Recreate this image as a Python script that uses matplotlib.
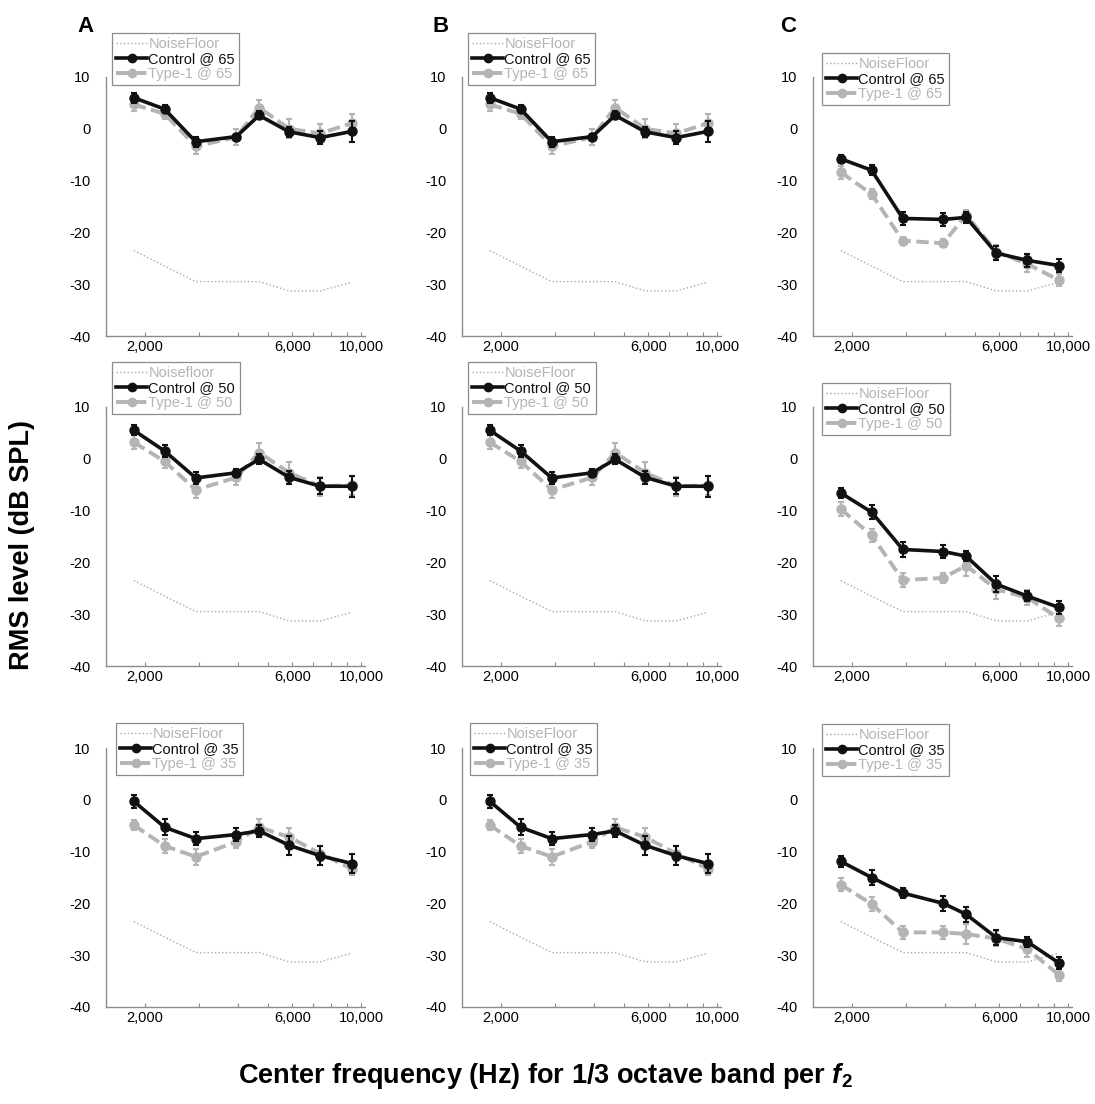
"""
RMS level of 1/3-octave bands vs. center frequency (f2), Control vs Type-1,
at three stimulus levels (65, 50, 35) for panels A, B and C.
"""

import matplotlib
matplotlib.use("Agg")
import matplotlib.pyplot as plt
from matplotlib.lines import Line2D
from matplotlib.ticker import FixedLocator, FixedFormatter, NullLocator

plt.rcParams["font.family"] = ["Liberation Sans", "DejaVu Sans"]
plt.rcParams["axes.unicode_minus"] = False
plt.rcParams["mathtext.fontset"] = "custom"
plt.rcParams["mathtext.rm"] = "Liberation Sans"
plt.rcParams["mathtext.bf"] = "Liberation Sans:bold"
plt.rcParams["mathtext.it"] = "Liberation Sans:italic"
plt.rcParams["mathtext.bfit"] = "Liberation Sans:bold:italic"

# ---- data -------------------------------------------------------------
FREQ = [1845, 2320, 2925, 3955, 4685, 5865, 7385, 9345]
NOISE_FLOOR = [-23.5, -26.5, -29.5, -29.5, -29.5, -31.3, -31.3, -29.6]
LEVELS = [65, 50, 35]

XTICKS = [2000, 3000, 4000, 5000, 6000, 7000, 8000, 9000, 10000]
XTICK_LABELS = ["2,000", "", "", "", "6,000", "", "", "", "10,000"]
YTICKS = [-40, -30, -20, -10, 0, 10]

# panel A
A_CTRL_65 = [6.0, 3.8, -2.5, -1.5, 2.6, -0.6, -1.7, -0.5]
A_CTRL_65_ERR = [1.0, 0.7, 1.0, 0.5, 0.8, 1.0, 1.2, 2.0]
A_TYPE_65 = [4.7, 2.9, -3.4, -1.6, 4.1, 0.0, -0.9, 1.1]
A_TYPE_65_ERR = [1.3, 1.0, 1.5, 1.5, 1.5, 1.8, 1.8, 1.7]
A_CTRL_50 = [5.5, 1.5, -3.7, -2.7, -0.1, -3.6, -5.3, -5.3]
A_CTRL_50_ERR = [1.0, 1.2, 1.2, 0.8, 1.0, 1.3, 1.5, 2.0]
A_TYPE_50 = [3.2, -0.5, -6.0, -3.6, 1.2, -2.7, -5.3, -5.1]
A_TYPE_50_ERR = [1.3, 1.3, 1.5, 1.5, 1.8, 2.0, 1.8, 1.8]
A_CTRL_35 = [-0.3, -5.3, -7.5, -6.7, -6.0, -8.8, -10.8, -12.3]
A_CTRL_35_ERR = [1.3, 1.5, 1.2, 1.2, 1.2, 1.8, 1.8, 1.8]
A_TYPE_35 = [-4.9, -8.9, -11.0, -8.1, -5.3, -7.2, -10.4, -13.3]
A_TYPE_35_ERR = [1.0, 1.3, 1.5, 1.3, 1.5, 1.8, 1.5, 1.2]

# panel B (reads identical to A in the source figure)
B_CTRL_65 = [6.0, 3.8, -2.5, -1.5, 2.6, -0.6, -1.7, -0.5]
B_CTRL_65_ERR = [1.0, 0.7, 1.0, 0.5, 0.8, 1.0, 1.2, 2.0]
B_TYPE_65 = [4.7, 2.9, -3.4, -1.6, 4.1, 0.0, -0.9, 1.1]
B_TYPE_65_ERR = [1.3, 1.0, 1.5, 1.5, 1.5, 1.8, 1.8, 1.7]
B_CTRL_50 = [5.5, 1.5, -3.7, -2.7, -0.1, -3.6, -5.3, -5.3]
B_CTRL_50_ERR = [1.0, 1.2, 1.2, 0.8, 1.0, 1.3, 1.5, 2.0]
B_TYPE_50 = [3.2, -0.5, -6.0, -3.6, 1.2, -2.7, -5.3, -5.1]
B_TYPE_50_ERR = [1.3, 1.3, 1.5, 1.5, 1.8, 2.0, 1.8, 1.8]
B_CTRL_35 = [-0.3, -5.3, -7.5, -6.7, -6.0, -8.8, -10.8, -12.3]
B_CTRL_35_ERR = [1.3, 1.5, 1.2, 1.2, 1.2, 1.8, 1.8, 1.8]
B_TYPE_35 = [-4.9, -8.9, -11.0, -8.1, -5.3, -7.2, -10.4, -13.3]
B_TYPE_35_ERR = [1.0, 1.3, 1.5, 1.3, 1.5, 1.8, 1.5, 1.2]

# panel C
C_CTRL_65 = [-5.8, -8.0, -17.3, -17.5, -17.1, -24.0, -25.4, -26.4]
C_CTRL_65_ERR = [0.8, 1.0, 1.3, 1.2, 1.0, 1.3, 1.3, 1.3]
C_TYPE_65 = [-8.4, -12.6, -21.6, -22.1, -16.6, -23.7, -26.1, -29.2]
C_TYPE_65_ERR = [1.3, 1.0, 0.8, 0.8, 1.0, 1.2, 1.5, 1.2]
C_CTRL_50 = [-6.6, -10.3, -17.5, -17.9, -18.8, -24.2, -26.5, -28.7]
C_CTRL_50_ERR = [1.0, 1.3, 1.5, 1.2, 1.0, 1.5, 1.0, 1.2]
C_TYPE_50 = [-9.7, -14.8, -23.4, -23.0, -20.6, -25.2, -26.8, -30.8]
C_TYPE_50_ERR = [1.3, 1.3, 1.3, 1.0, 2.0, 1.8, 1.5, 1.5]
C_CTRL_35 = [-11.9, -15.0, -18.0, -20.0, -22.1, -26.6, -27.4, -31.5]
C_CTRL_35_ERR = [1.0, 1.5, 1.0, 1.5, 1.5, 1.5, 1.0, 1.2]
C_TYPE_35 = [-16.4, -20.1, -25.6, -25.6, -25.9, -26.8, -28.8, -33.8]
C_TYPE_35_ERR = [1.3, 1.3, 1.2, 1.2, 2.0, 1.5, 1.5, 1.2]

NOISE_LABELS = [["NoiseFloor", "Noisefloor", "NoiseFloor"],
                ["NoiseFloor", "NoiseFloor", "NoiseFloor"],
                ["NoiseFloor", "NoiseFloor", "NoiseFloor"]]   # [panel][row]

# ---- layout (pixels) -------------------------------------------------
W, H = 1095, 1104
COL_LEFT = [106, 462, 813]
ROW_TOP = [77, 407, 748]
AX_W, AX_H = 259, 259
LEGEND_XY = [[(112, 33), (112, 362), (116, 723)],
             [(468, 33), (468, 362), (470, 723)],
             [(822, 53), (822, 383), (822, 724)]]

BLACK = "#111111"
GRAY = "#b4b4b4"
NF_GRAY = "#a8a8a8"
SPINE = "#8c8c8c"


def _panel(ax, ctrl, ctrl_err, typ, typ_err, level, nf_label, legend_xy, fig):
    ax.plot(FREQ, NOISE_FLOOR, color=NF_GRAY, ls=":", lw=1.0, zorder=1)
    ax.errorbar(FREQ, typ, yerr=typ_err, color=GRAY, lw=2.8, dashes=(3.2, 1.4),
                marker="o", ms=6.5, mec=GRAY, mfc=GRAY, elinewidth=1.5,
                capsize=2.5, capthick=1.5, zorder=2)
    ax.errorbar(FREQ, ctrl, yerr=ctrl_err, color=BLACK, lw=2.6,
                marker="o", ms=6.5, elinewidth=1.5, capsize=2.5, capthick=1.5,
                zorder=3)

    ax.set_xscale("log")
    ax.set_xlim(1500, 10300)
    ax.set_ylim(-40, 10)
    ax.xaxis.set_major_locator(FixedLocator(XTICKS))
    ax.xaxis.set_major_formatter(FixedFormatter(XTICK_LABELS))
    ax.xaxis.set_minor_locator(NullLocator())
    ax.set_yticks(YTICKS)
    ax.tick_params(axis="x", direction="in", length=3, width=0.8, color=SPINE,
                   labelsize=10.5, pad=3)
    ax.tick_params(axis="y", length=0, labelsize=10.5, pad=11)
    for side in ("top", "right"):
        ax.spines[side].set_visible(False)
    for side in ("left", "bottom"):
        ax.spines[side].set_color(SPINE)
        ax.spines[side].set_linewidth(1.0)

    handles = [
        Line2D([], [], color=NF_GRAY, ls=":", lw=1.0),
        Line2D([], [], color=BLACK, lw=2.6, marker="o", ms=6),
        Line2D([], [], color=GRAY, lw=2.8, dashes=(3.2, 1.4), marker="o", ms=6),
    ]
    labels = [nf_label, f"Control @ {level}", f"Type-1 @ {level}"]
    leg = ax.legend(handles, labels, loc="upper left",
                    bbox_to_anchor=(legend_xy[0] / W, 1 - legend_xy[1] / H),
                    bbox_transform=fig.transFigure, fontsize=10.5,
                    labelcolor=[GRAY, BLACK, GRAY], handlelength=2.1,
                    handletextpad=0.1, labelspacing=0.05, borderpad=0.3,
                    borderaxespad=0, fancybox=False, framealpha=1)
    leg.get_frame().set_edgecolor(SPINE)
    leg.get_frame().set_linewidth(0.9)


def _plot() -> None:
    fig = plt.figure(figsize=(W / 100, H / 100), dpi=100)
    fig.patch.set_facecolor("white")

    panels = [
        [(A_CTRL_65, A_CTRL_65_ERR, A_TYPE_65, A_TYPE_65_ERR),
         (A_CTRL_50, A_CTRL_50_ERR, A_TYPE_50, A_TYPE_50_ERR),
         (A_CTRL_35, A_CTRL_35_ERR, A_TYPE_35, A_TYPE_35_ERR)],
        [(B_CTRL_65, B_CTRL_65_ERR, B_TYPE_65, B_TYPE_65_ERR),
         (B_CTRL_50, B_CTRL_50_ERR, B_TYPE_50, B_TYPE_50_ERR),
         (B_CTRL_35, B_CTRL_35_ERR, B_TYPE_35, B_TYPE_35_ERR)],
        [(C_CTRL_65, C_CTRL_65_ERR, C_TYPE_65, C_TYPE_65_ERR),
         (C_CTRL_50, C_CTRL_50_ERR, C_TYPE_50, C_TYPE_50_ERR),
         (C_CTRL_35, C_CTRL_35_ERR, C_TYPE_35, C_TYPE_35_ERR)],
    ]

    for col in range(3):
        for row in range(3):
            rect = [COL_LEFT[col] / W, 1 - (ROW_TOP[row] + AX_H) / H,
                    AX_W / W, AX_H / H]
            ax = fig.add_axes(rect)
            ctrl, ctrl_err, typ, typ_err = panels[col][row]
            _panel(ax, ctrl, ctrl_err, typ, typ_err, LEVELS[row],
                   NOISE_LABELS[col][row], LEGEND_XY[col][row], fig)

    for letter, x in zip("ABC", (77, 432, 780)):
        fig.text(x / W, 1 - 26 / H, letter, fontsize=16, fontweight="bold",
                 va="center", ha="left")

    fig.text(22 / W, 1 - 545 / H, "RMS level (dB SPL)", rotation=90,
             fontsize=19.5, fontweight="bold", va="center", ha="center")
    fig.text(545 / W, 1 - 1076 / H,
             r"Center frequency (Hz) for 1/3 octave band per $\mathbfit{f}_{\mathbf{2}}$",
             fontsize=19.5, fontweight="bold", va="center", ha="center")

    fig.savefig("out.png", dpi=100, facecolor="white")


if __name__ == "__main__":
    _plot()
